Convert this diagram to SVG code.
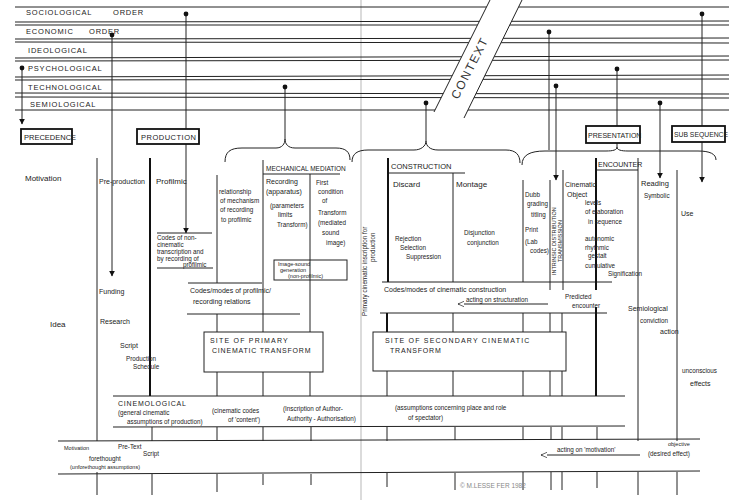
<svg xmlns="http://www.w3.org/2000/svg" width="729" height="500" viewBox="0 0 729 500">
<defs>
<style>
.l{stroke:#222;stroke-width:1;fill:none}
.k{stroke:#111;stroke-width:2;fill:none}
.f{stroke:#cfcfcf;stroke-width:1.5;fill:none}
text{font-family:"Liberation Sans",Arial,sans-serif;fill:#222;font-size:7px}
.c{letter-spacing:0.8px;font-size:7.5px}
.m{font-size:8px}
.s{font-size:6.3px}
.xs{font-size:5.5px}
.dot{fill:#111}
.box{fill:#fff;stroke:#111;stroke-width:1.8}
</style>
<marker id="ah" viewBox="0 0 10 10" refX="9" refY="5" markerWidth="6" markerHeight="6" orient="auto"><path d="M0,0 L10,5 L0,10 z" fill="#111"/></marker>
<marker id="oh" viewBox="0 0 10 10" refX="9" refY="5" markerWidth="7" markerHeight="7" orient="auto"><path d="M0,1 L9,5 L0,9" fill="#fff" stroke="#222" stroke-width="1"/></marker>
</defs>
<rect width="729" height="500" fill="#fff"/>
<line class="f" x1="361" y1="0" x2="361" y2="500"/>

<g id="orders">
<g class="l">
<line x1="15" y1="7" x2="729" y2="7"/>
<line x1="15" y1="22" x2="729" y2="21"/><line x1="15" y1="25" x2="729" y2="25"/>
<line x1="15" y1="39" x2="729" y2="38"/><line x1="15" y1="42" x2="729" y2="43"/>
<line x1="15" y1="58" x2="729" y2="56"/><line x1="15" y1="61" x2="729" y2="60"/>
<line x1="15" y1="77" x2="729" y2="75"/><line x1="15" y1="80" x2="729" y2="79"/>
<line x1="15" y1="93" x2="729" y2="94"/><line x1="15" y1="97" x2="729" y2="98"/>
<line x1="15" y1="110" x2="729" y2="110"/>
</g>
<text class="c" x="26" y="15">SOCIOLOGICAL</text><text class="c" x="113" y="15">ORDER</text>
<text class="c" x="26" y="34">ECONOMIC</text><text class="c" x="89" y="34">ORDER</text>
<text class="c" x="28" y="53">IDEOLOGICAL</text>
<text class="c" x="28" y="71">PSYCHOLOGICAL</text>
<text class="c" x="28" y="90">TECHNOLOGICAL</text>
<text class="c" x="30" y="107">SEMIOLOGICAL</text>
</g>

<g id="context">
<polygon points="434,112 490,0 522,0 464,118" fill="#fff"/>
<line class="l" x1="434" y1="112" x2="490" y2="0"/>
<line class="l" x1="464" y1="118" x2="522" y2="0"/>
<text transform="translate(458,100) rotate(-63)" style="font-size:12px;letter-spacing:1.5px;fill:#333">CONTEXT</text>
</g>

<g id="connectors">
<g class="l">
<line x1="22" y1="68" x2="22" y2="124" marker-end="url(#ah)"/>
<line x1="112" y1="35" x2="112" y2="276" marker-end="url(#ah)"/>
<line x1="186" y1="14" x2="186" y2="129"/>
<line x1="186" y1="144" x2="186" y2="233" marker-end="url(#ah)"/>
<line x1="285" y1="87" x2="285" y2="139"/>
<line x1="426" y1="103" x2="426" y2="141"/>
<line x1="549" y1="32" x2="549" y2="150"/>
<line x1="556" y1="86" x2="556" y2="180" marker-end="url(#ah)"/>
<line x1="617" y1="69" x2="617" y2="126"/>
<line x1="617" y1="143" x2="617" y2="147"/>
<line x1="660" y1="103" x2="660" y2="178" marker-end="url(#ah)"/>
<line x1="702" y1="14" x2="702" y2="126"/>
<line x1="702" y1="142" x2="702" y2="182" marker-end="url(#ah)"/>
<path d="M225,162 C225,152 230,148 242,148 L276,148 C282,148 285,144 285,139 C285,144 288,148 295,148 L336,148 C346,148 350,152 350,160"/>
<path d="M352,162 C352,154 357,150 368,150 L414,150 C421,150 426,146 426,141 C426,146 430,150 438,150 L506,150 C516,150 520,155 520,163"/>
<path d="M522,165 C522,155 530,151 545,151 L606,151 C613,151 617,150 617,147 C617,150 621,151 628,151 L698,151 C710,151 716,154 716,160"/>
</g>
<g class="dot">
<circle cx="22" cy="68" r="2.4"/><circle cx="112" cy="35" r="2.4"/><circle cx="186" cy="14" r="2.4"/>
<circle cx="285" cy="87" r="2.4"/><circle cx="426" cy="103" r="2.4"/><circle cx="549" cy="32" r="2.4"/>
<circle cx="556" cy="86" r="2.4"/><circle cx="617" cy="69" r="2.4"/><circle cx="660" cy="103" r="2.4"/>
<circle cx="702" cy="14" r="2.4"/>
</g>
</g>

<g id="precedence"><rect class="box" x="21" y="129" width="51" height="15"/><text x="24" y="140" style="font-size:7.5px">PRECEDENCE</text></g>
<g id="production"><rect class="box" x="137" y="129" width="62" height="15"/><text x="141" y="140" style="font-size:7.5px;letter-spacing:0.5px">PRODUCTION</text></g>
<g id="presentation"><rect class="box" x="586" y="126" width="54" height="17"/><text x="588" y="138" style="font-size:7px">PRESENTATION</text></g>
<g id="subsequence"><rect class="box" x="672" y="126" width="53" height="16"/><text x="674" y="137" style="font-size:6.8px">SUB SEQUENCE</text></g>

<g id="grid">
<g class="l">
<line x1="97" y1="158" x2="97" y2="441"/><line x1="97" y1="472" x2="97" y2="495"/>
<line x1="217" y1="175" x2="217" y2="283"/><line x1="217" y1="314" x2="217" y2="396"/>
<line x1="263" y1="160" x2="263" y2="332"/><line x1="263" y1="372" x2="263" y2="396"/>
<line x1="310" y1="174" x2="310" y2="332"/><line x1="310" y1="372" x2="310" y2="396"/>
<line x1="453" y1="173" x2="453" y2="282"/><line x1="453" y1="313" x2="453" y2="332"/><line x1="453" y1="371" x2="453" y2="396"/>
<line x1="523" y1="180" x2="523" y2="282"/><line x1="523" y1="313" x2="523" y2="332"/><line x1="523" y1="371" x2="523" y2="396"/>
<line x1="550" y1="180" x2="550" y2="290"/><line x1="550" y1="313" x2="550" y2="332"/><line x1="550" y1="371" x2="550" y2="396"/>
<line x1="563" y1="170" x2="563" y2="290"/><line x1="562" y1="313" x2="562" y2="332"/><line x1="562" y1="371" x2="562" y2="396"/>
<line x1="638" y1="158" x2="638" y2="441"/><line x1="638" y1="472" x2="638" y2="495"/>
<line x1="677" y1="170" x2="677" y2="441"/><line x1="677" y1="472" x2="677" y2="495"/>
<line x1="263" y1="174" x2="340" y2="174"/>
<line x1="388" y1="173" x2="465" y2="173"/>
<line x1="596" y1="170" x2="638" y2="170"/>
<line x1="157" y1="233" x2="212" y2="233"/><line x1="157" y1="268" x2="213" y2="268"/>
<line x1="188" y1="283" x2="262" y2="283"/><line x1="187" y1="314" x2="300" y2="314"/>
<line x1="382" y1="282" x2="612" y2="282"/>
<line x1="380" y1="313" x2="607" y2="313"/>
<line x1="113" y1="396" x2="625" y2="396"/><line x1="113" y1="427" x2="625" y2="426"/>
<line x1="58" y1="441" x2="700" y2="439"/><line x1="58" y1="474" x2="700" y2="471"/>
</g>
<g class="k">
<line x1="150" y1="158" x2="150" y2="396"/>
<line x1="388" y1="158" x2="388" y2="282"/><line x1="387" y1="313" x2="387" y2="332"/>
<line x1="596" y1="158" x2="596" y2="290"/><line x1="596" y1="307" x2="596" y2="396"/>
</g>
<g class="l">
<line x1="387" y1="371" x2="387" y2="396"/>
<line x1="152" y1="427" x2="152" y2="441"/><line x1="152" y1="474" x2="152" y2="495"/>
<line x1="217" y1="427" x2="217" y2="441"/><line x1="217" y1="474" x2="217" y2="492"/>
<line x1="263" y1="427" x2="263" y2="441"/><line x1="263" y1="474" x2="263" y2="485"/>
<line x1="311" y1="427" x2="311" y2="441"/><line x1="311" y1="474" x2="311" y2="485"/>
<line x1="387" y1="427" x2="387" y2="441"/><line x1="387" y1="473" x2="387" y2="487"/>
<line x1="455" y1="427" x2="455" y2="440"/><line x1="455" y1="473" x2="455" y2="490"/>
<line x1="523" y1="427" x2="523" y2="440"/><line x1="523" y1="472" x2="523" y2="490"/>
<line x1="551" y1="427" x2="551" y2="440"/><line x1="551" y1="472" x2="551" y2="490"/>
<line x1="562" y1="427" x2="562" y2="440"/><line x1="562" y1="472" x2="562" y2="490"/>
<line x1="597" y1="427" x2="597" y2="440"/><line x1="597" y1="472" x2="597" y2="488"/>
</g>
</g>

<g id="precedence-col">
<text class="m" x="25" y="181">Motivation</text>
<text class="m" x="50" y="327">Idea</text>
</g>
<g id="preproduction-col">
<text x="99" y="184">Pre-production</text>
<text x="99" y="294">Funding</text>
<text x="100" y="324">Research</text>
<text x="120" y="348">Script</text>
<text class="s" x="126" y="361">Production</text>
<text class="s" x="133" y="369">Schedule</text>
</g>
<g id="profilmic">
<text class="m" x="156" y="184">Profilmic</text>
<text class="s" x="157" y="240">Codes of non-</text>
<text class="s" x="157" y="247">cinematic</text>
<text class="s" x="157" y="254">transcription and</text>
<text class="s" x="157" y="261">by recording of</text>
<text class="s" x="183" y="267">profilmic</text>
</g>
<g id="relationship">
<text class="s" x="219" y="194">relationship</text>
<text class="s" x="220" y="203">of mechanism</text>
<text class="s" x="220" y="212">of recording</text>
<text class="s" x="221" y="222">to profilmic</text>
</g>
<g id="mechanical-mediation">
<text x="266" y="171" style="font-size:6.5px">MECHANICAL MEDIATION</text>
<text x="266" y="184">Recording</text>
<text x="266" y="194">(apparatus)</text>
<text class="s" x="270" y="208">(parameters</text>
<text class="s" x="278" y="217">limits</text>
<text class="s" x="277" y="227">Transform)</text>
<text class="s" x="316" y="185">First</text>
<text class="s" x="318" y="194">condition</text>
<text class="s" x="322" y="203">of</text>
<text class="s" x="318" y="215">Transform</text>
<text class="s" x="318" y="225">(mediated</text>
<text class="s" x="322" y="235">sound</text>
<text class="s" x="326" y="245">image)</text>
<rect x="274" y="260" width="73" height="20" fill="none" stroke="#222"/>
<text class="xs" x="278" y="266">Image-sound</text>
<text class="xs" x="280" y="272">generation</text>
<text class="xs" x="288" y="278">(non-profilmic)</text>
</g>
<g id="profilmic-codes">
<text x="190" y="293">Codes/modes of profilmic/</text>
<text x="193" y="304">recording relations</text>
</g>
<g id="primary-transform">
<rect x="204" y="332" width="119" height="40" fill="#fff" stroke="#222"/>
<text x="210" y="343" style="letter-spacing:1.2px">SITE OF PRIMARY</text>
<text x="212" y="353" style="letter-spacing:0.8px">CINEMATIC TRANSFORM</text>
</g>
<g id="inscription">
<text class="s" transform="translate(367,316) rotate(-90)">Primary cinematic inscription for</text>
<text class="s" transform="translate(375,262) rotate(-90)">production</text>
</g>
<g id="construction">
<text x="391" y="169" style="font-size:7.5px">CONSTRUCTION</text>
<text class="m" x="393" y="187">Discard</text>
<text class="m" x="456" y="187">Montage</text>
<text class="s" x="395" y="241">Rejection</text>
<text class="s" x="400" y="250">Selection</text>
<text class="s" x="406" y="259">Suppression</text>
<text class="s" x="464" y="235">Disjunction</text>
<text class="s" x="467" y="245">conjunction</text>
<text class="s" x="525" y="197">Dubb</text>
<text class="s" x="527" y="206">grading</text>
<text class="s" x="531" y="217">titling</text>
<text class="s" x="525" y="232">Print</text>
<text class="s" x="525" y="244">(Lab</text>
<text class="s" x="530" y="253">codes)</text>
<text x="384" y="292">Codes/modes of cinematic construction</text>
<line class="l" x1="548" y1="304" x2="458" y2="304" marker-end="url(#oh)"/>
<text class="s" x="466" y="302">acting on structuration</text>
<text class="s" x="565" y="299">Predicted</text>
<text class="s" x="572" y="308">encounter</text>
</g>
<g id="distribution">
<text class="xs" transform="translate(556,275) rotate(-90)">INTRINSIC DISTRIBUTION</text>
<text class="xs" transform="translate(561.5,262) rotate(-90)">TRANSMISSION</text>
</g>
<g id="secondary-transform">
<rect x="373" y="332" width="193" height="39" fill="#fff" stroke="#222"/>
<text x="385" y="343" style="letter-spacing:1.2px">SITE OF SECONDARY CINEMATIC</text>
<text x="390" y="353" style="letter-spacing:0.8px">TRANSFORM</text>
</g>
<g id="encounter">
<text x="598" y="167" style="font-size:7px">ENCOUNTER</text>
<text x="565" y="187">Cinematic</text>
<text x="567" y="197">Object</text>
<text class="s" x="585" y="205">levels</text>
<text class="s" x="585" y="214">of elaboration</text>
<text class="s" x="588" y="224">in sequence</text>
<text class="s" x="585" y="241">autonomic</text>
<text class="s" x="585" y="250">rhythmic</text>
<text class="s" x="588" y="258">gestalt</text>
<text class="s" x="585" y="268">cumulative</text>
<text class="s" x="608" y="276">Signification</text>
</g>
<g id="subsequence-col">
<text x="641" y="186" style="font-size:7.5px">Reading</text>
<text class="s" x="644" y="198">Symbolic</text>
<text x="681" y="216">Use</text>
<text x="628" y="311">Semiological</text>
<text class="s" x="640" y="323">conviction</text>
<text x="660" y="334">action</text>
<text class="s" x="682" y="373">unconscious</text>
<text x="690" y="386">effects</text>
</g>
<g id="cinemological">
<text x="118" y="406" style="letter-spacing:0.8px">CINEMOLOGICAL</text>
<text class="s" x="118" y="415">(general cinematic</text>
<text class="s" x="127" y="424">assumptions of production)</text>
<text class="s" x="212" y="413">(cinematic codes</text>
<text class="s" x="228" y="422">of 'content')</text>
<text class="s" x="283" y="411">(Inscription of Author-</text>
<text class="s" x="287" y="421">Authority - Authorisation)</text>
<text class="s" x="395" y="410">(assumptions concerning place and role</text>
<text class="s" x="408" y="420">of spectator)</text>
</g>
<g id="motivation-band">
<text class="xs" x="64" y="450">Motivation</text>
<text class="s" x="118" y="449">Pre-Text</text>
<text class="s" x="89" y="461">forethought</text>
<text class="s" x="143" y="456">Script</text>
<text class="xs" x="70" y="469">(unforethought assumptions)</text>
<line class="l" x1="640" y1="455" x2="541" y2="455" marker-end="url(#oh)"/>
<text class="s" x="557" y="452">acting on 'motivation'</text>
<text class="xs" x="668" y="446">objective</text>
<text class="s" x="648" y="456">(desired effect)</text>
<text x="460" y="488" style="font-size:6.5px;fill:#888">© M.LESSE FER 1982</text>
</g>
</svg>
